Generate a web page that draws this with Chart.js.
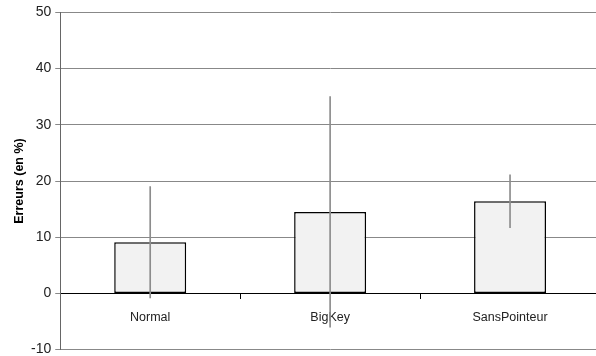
<!DOCTYPE html>
<html>
<head>
<meta charset="utf-8">
<script src="https://cdn.jsdelivr.net/npm/chart.js@4/dist/chart.umd.min.js"></script>
<style>
  html, body { margin: 0; padding: 0; background: #fff; overflow: hidden; }
  #wrap { width: 604px; height: 356px; overflow: hidden; }
</style>
</head>
<body>
<div id="wrap"><canvas id="errChart"></canvas></div>
<script>
// données
const categories = ['Normal', 'BigKey', 'SansPointeur'];
const means = [9.1, 14.5, 16.4];
const errors = [9.9, 20.5, 4.7];
const yTicks = [-10, 0, 10, 20, 30, 40, 50];

// barres d'erreur = barres flottantes très fines
const errorRanges = means.map((m, i) => [m - errors[i], m + errors[i]]);

const canvas = document.getElementById('errChart');
canvas.width = 604;
canvas.height = 362;

new Chart(canvas, {
    type: 'bar',
    data: {
        labels: categories,
        datasets: [
            {
                label: 'erreur',
                data: errorRanges,
                backgroundColor: '#8c8c8c',
                barThickness: 1,
                grouped: false,
                order: 0
            },
            {
                label: 'Erreurs',
                data: means,
                backgroundColor: '#f2f2f2',
                borderColor: '#000',
                borderWidth: 1.5,
                borderSkipped: false,
                barPercentage: 0.4,
                categoryPercentage: 1,
                grouped: false,
                order: 1
            }
        ]
    },
    options: {
        responsive: false,
        animation: false,
        layout: { padding: { top: 9, bottom: 0, right: 4, left: 12 } },
        plugins: { legend: { display: false }, tooltip: { enabled: false } },
        scales: {
            x: {
                position: { y: 0 },
                grid: { offset: true, drawOnChartArea: false, drawTicks: true, tickLength: 5, color: '#000' },
                border: { color: '#000', width: 1 },
                ticks: { color: '#222', font: { family: 'Liberation Sans', size: 12.5 }, padding: 12 }
            },
            y: {
                min: -10,
                max: 50,
                afterBuildTicks: axis => { axis.ticks = yTicks.map(v => ({ value: v })); },
                grid: { color: '#888', lineWidth: 1, tickLength: 5 },
                border: { color: '#666', width: 1 },
                ticks: { color: '#222', font: { family: 'Liberation Sans', size: 14 }, padding: 4 },
                title: {
                    display: true,
                    text: 'Erreurs (en %)',
                    color: '#000',
                    font: { family: 'Liberation Sans', size: 12.5, weight: 'bold' },
                    padding: { top: 0, bottom: 0 }
                }
            }
        }
    }
});
</script>
</body>
</html>
